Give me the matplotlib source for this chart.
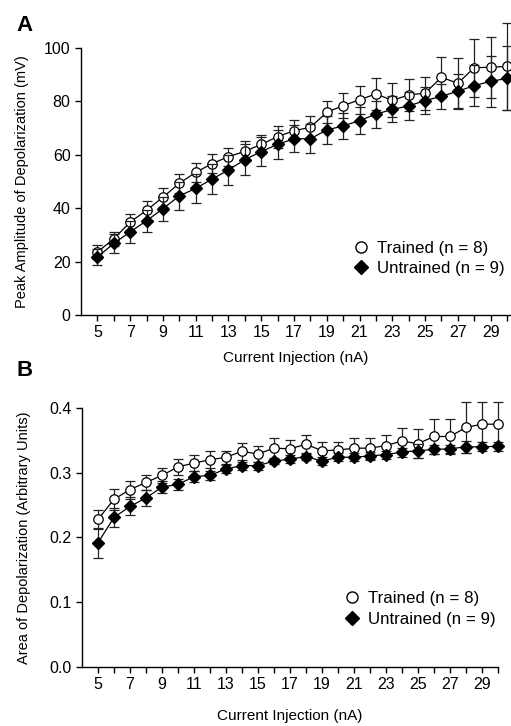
import numpy as np
import matplotlib
matplotlib.use("Agg")
import matplotlib.pyplot as plt
from matplotlib.lines import Line2D

plt.rcParams.update({"font.family": ["Liberation Sans", "DejaVu Sans"], "font.size": 10,
                     "axes.linewidth": 1.0, "xtick.major.width": 1.0, "ytick.major.width": 1.0})

current = np.arange(5, 31)

# Panel A: peak amplitude (mV)
peak_trained = [23.6, 28.5, 34.8, 39.2, 44.1, 49.3, 53.4, 56.7, 59.3, 61.3, 63.9, 66.8, 69.0,
                70.3, 75.9, 78.4, 80.6, 82.8, 80.4, 82.4, 83.1, 89.0, 86.8, 92.6, 92.8, 93.1]
peak_trained_se = [2.5, 2.7, 3.1, 3.5, 3.5, 3.6, 3.7, 3.6, 3.4, 3.7, 3.6, 4.1, 4.0,
                   4.2, 4.1, 4.6, 5.2, 6.1, 6.4, 6.1, 6.2, 7.6, 9.4, 10.8, 11.4, 16.4]
peak_untrained = [21.7, 26.8, 31.1, 35.3, 39.8, 44.6, 47.4, 50.9, 54.3, 58.2, 61.2, 63.9, 66.0,
                  66.0, 69.3, 70.8, 72.8, 75.2, 77.0, 78.3, 80.3, 81.9, 83.8, 85.9, 87.5, 88.6]
peak_untrained_se = [2.9, 3.7, 4.0, 4.2, 4.5, 5.1, 5.5, 5.5, 5.6, 5.7, 5.4, 5.4, 5.0,
                     5.4, 5.2, 5.0, 5.1, 5.1, 4.9, 5.1, 5.0, 4.7, 6.5, 7.7, 9.6, 12.0]

# Panel B: area (arbitrary units)
area_trained = [0.228, 0.259, 0.274, 0.285, 0.296, 0.309, 0.315, 0.320, 0.324, 0.333, 0.329, 0.338, 0.337,
                0.344, 0.334, 0.335, 0.338, 0.338, 0.342, 0.349, 0.345, 0.356, 0.356, 0.370, 0.375, 0.375]
area_trained_se = [0.015, 0.016, 0.014, 0.012, 0.012, 0.012, 0.012, 0.013, 0.010, 0.013, 0.013, 0.016, 0.014,
                   0.015, 0.013, 0.013, 0.015, 0.016, 0.016, 0.020, 0.022, 0.027, 0.027, 0.040, 0.034, 0.034]
area_untrained = [0.192, 0.231, 0.248, 0.261, 0.278, 0.282, 0.294, 0.296, 0.306, 0.311, 0.311, 0.318, 0.321,
                  0.325, 0.318, 0.324, 0.324, 0.326, 0.328, 0.332, 0.334, 0.336, 0.337, 0.340, 0.340, 0.341]
area_untrained_se = [0.023, 0.015, 0.014, 0.012, 0.009, 0.009, 0.008, 0.007, 0.006, 0.006, 0.006, 0.005, 0.006,
                     0.006, 0.006, 0.006, 0.006, 0.006, 0.006, 0.007, 0.011, 0.007, 0.006, 0.009, 0.007, 0.007]

xtick_labels = list(range(5, 30, 2))

fig = plt.figure(figsize=(5.11, 7.26), dpi=100)
axA = fig.add_axes([0.1585, 0.5661, 0.840, 0.3678])
axB = fig.add_axes([0.1605, 0.0813, 0.814, 0.3567])


def draw(ax, tr, tr_se, un, un_se, ylim, yticks, ylabel, legpos, ylab_x, xlab_y):
    c1 = ax.errorbar(current, tr, yerr=tr_se, fmt="o-", color="black", ecolor="#222222", elinewidth=0.9,
                     capsize=3.5, capthick=0.9, lw=0.9, ms=6.8, mfc="white", mec="black", mew=0.9, zorder=2)
    c2 = ax.errorbar(current, un, yerr=un_se, fmt="D-", color="black", ecolor="#222222", elinewidth=0.9,
                     capsize=3.5, capthick=0.9, lw=0.9, ms=5.8, mfc="black", mec="black", zorder=3)
    for cont in (c1, c2):
        for art in cont.get_children():
            art.set_clip_on(False)
    ax.set_ylim(*ylim)
    ax.set_yticks(yticks)
    ax.set_xticks(current)
    ax.set_xticklabels([str(c) if c in xtick_labels else "" for c in current])
    ax.tick_params(direction="out", length=4, labelsize=11.5)
    for s in ["top", "right"]:
        ax.spines[s].set_visible(False)
    ax.set_xlabel("Current Injection (nA)", fontsize=11)
    ax.set_ylabel(ylabel, fontsize=10.5)
    ax.yaxis.set_label_coords(ylab_x, 0.5)
    ax.xaxis.set_label_coords(0.5, xlab_y)
    handles = [Line2D([], [], ls="none", marker="o", ms=8, mfc="white", mec="black", mew=1.0),
               Line2D([], [], ls="none", marker="D", ms=7, mfc="black", mec="black")]
    ax.legend(handles, ["Trained (n = 8)", "Untrained (n = 9)"], loc="center left",
              bbox_to_anchor=legpos, frameon=False, fontsize=12.2, handlelength=0.9,
              handletextpad=0.5, labelspacing=0.3, borderpad=0)


draw(axA, peak_trained, peak_trained_se, peak_untrained, peak_untrained_se,
     (0, 100), [0, 20, 40, 60, 80, 100], "Peak Amplitude of Depolarization (mV)", (0.614, 0.213),
     -0.121, -0.135)
axA.set_xlim(4, 30.2)
draw(axB, area_trained, area_trained_se, area_untrained, area_untrained_se,
     (0, 0.4), [0.0, 0.1, 0.2, 0.3, 0.4], "Area of Depolarization (Arbitrary Units)", (0.610, 0.224),
     -0.123, -0.162)
axB.set_xlim(4, 30)
axB.set_yticklabels(["0.0", "0.1", "0.2", "0.3", "0.4"])

fig.text(0.033, 0.965, "A", fontsize=16, fontweight="bold", ha="left", va="center")
fig.text(0.033, 0.489, "B", fontsize=16, fontweight="bold", ha="left", va="center")

fig.savefig("out.png", dpi=100)
